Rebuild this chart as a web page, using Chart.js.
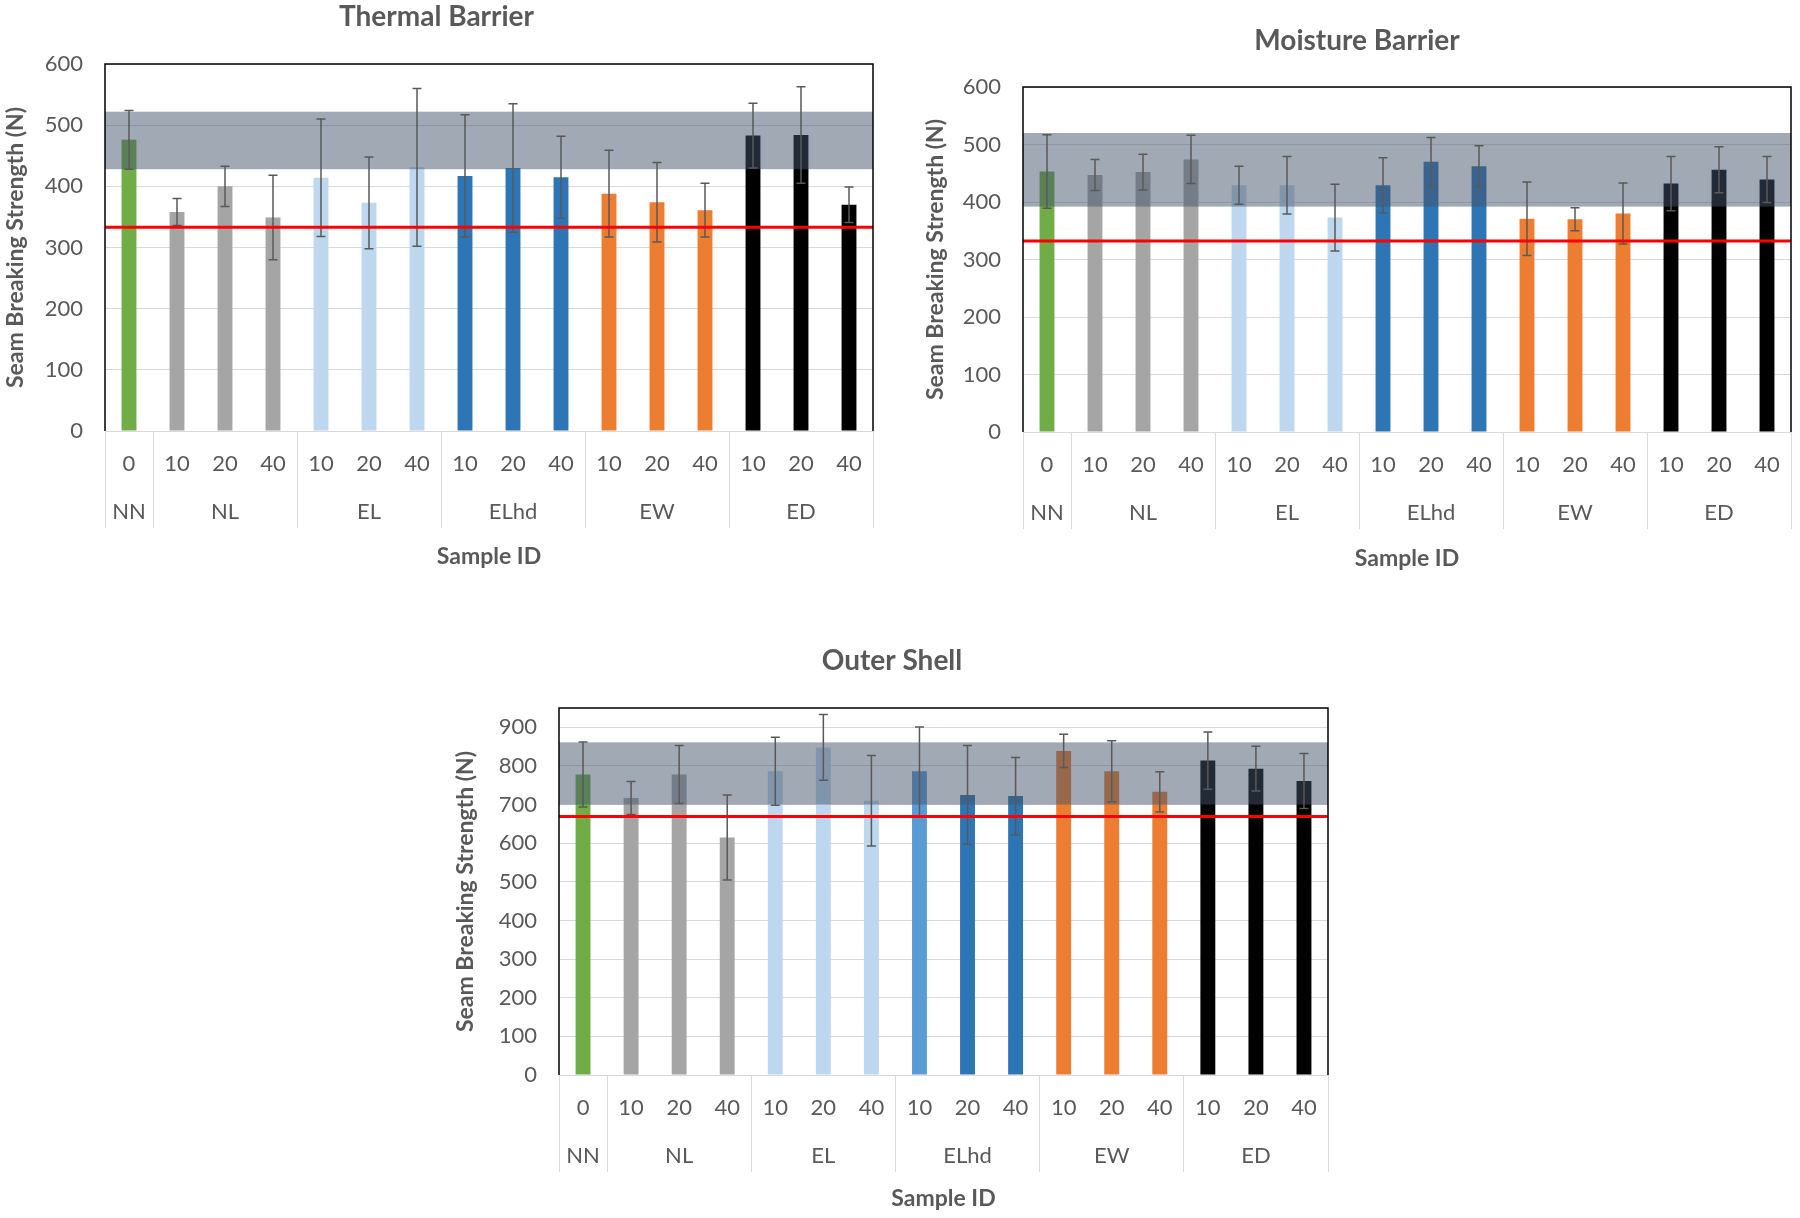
<!DOCTYPE html>
<html>
<head>
<meta charset="utf-8">
<title>Seam Breaking Strength</title>
<script src="https://cdn.jsdelivr.net/npm/chart.js@4.4.1/dist/chart.umd.min.js"></script>
<style>
    html, body { margin: 0; padding: 0; background: #fff; }
    body { width: 1800px; height: 1218px; position: relative; overflow: hidden; }
    canvas { position: absolute; }
</style>
</head>
<body>
<canvas id="thermal" width="874" height="580" style="left:0px;top:0px"></canvas>
<canvas id="moisture" width="886" height="580" style="left:914px;top:0px"></canvas>
<canvas id="outer" width="904" height="588" style="left:440px;top:630px"></canvas>
<script>
// categories
var groups = ['NN', 'NL', 'EL', 'ELhd', 'EW', 'ED'];
var groupSizes = [1, 3, 3, 3, 3, 3];
var levels = ['0', '10', '20', '40', '10', '20', '40', '10', '20', '40', '10', '20', '40', '10', '20', '40'];

// Thermal Barrier
var thermalMean = [476, 358, 400, 349, 414, 373, 431, 417, 430, 415, 388, 374, 361, 483, 484, 370];
var thermalErr  = [48, 22, 33, 69, 96, 75, 129, 100, 105, 67, 71, 65, 44, 53, 79, 29];
var thermalBand = [428, 522];
var thermalLimit = 333;

// Moisture Barrier
var moistureMean = [453, 447, 452, 474, 429, 429, 373, 429, 470, 462, 371, 370, 380, 432, 456, 439];
var moistureErr  = [64, 27, 31, 42, 33, 50, 58, 48, 42, 36, 64, 20, 53, 47, 40, 40];
var moistureBand = [392, 520];
var moistureLimit = 332;

// Outer Shell
var outerMean = [778, 717, 778, 615, 786, 848, 710, 786, 725, 722, 839, 786, 733, 814, 793, 761];
var outerErr  = [84, 43, 75, 110, 88, 85, 117, 115, 128, 100, 43, 79, 52, 74, 58, 71];
var outerBand = [700, 861];
var outerLimit = 669;

var groupColors = ['#70ad47', '#a5a5a5', '#bdd7ee', '#2e75b6', '#ed7d31', '#000000'];
var textColor = '#595959';
var fontFamily = 'Lato, "Open Sans", sans-serif';

function barColors(){
    var out = [];
    groups.forEach(function(g, i){
        for (var k = 0; k < groupSizes[i]; k++) out.push(groupColors[i]);
    });
    return out;
}

// group boundaries / centres on a 0..16 scale
var bounds = [0], centres = [];
groupSizes.forEach(function(n){
    var start = bounds[bounds.length - 1];
    centres.push(start + n / 2);
    bounds.push(start + n);
});

function overlay(err, band, limit){
    return {
        id: 'overlay',
        afterDatasetsDraw: function(chart){
            var ctx = chart.ctx, a = chart.chartArea, y = chart.scales.y;
            var mean = chart.data.datasets[0].data;
            ctx.save();
            // control range band
            var t = y.getPixelForValue(band[1]), b = y.getPixelForValue(band[0]);
            ctx.fillStyle = 'rgba(68,84,106,0.5)';
            ctx.fillRect(a.left, t, a.right - a.left, b - t);
            // error bars
            ctx.strokeStyle = '#595959';
            ctx.lineWidth = 1.5;
            chart.getDatasetMeta(0).data.forEach(function(bar, i){
                var hi = y.getPixelForValue(mean[i] + err[i]);
                var lo = y.getPixelForValue(mean[i] - err[i]);
                ctx.beginPath();
                ctx.moveTo(bar.x, hi); ctx.lineTo(bar.x, lo);
                ctx.moveTo(bar.x - 4.5, hi); ctx.lineTo(bar.x + 4.5, hi);
                ctx.moveTo(bar.x - 4.5, lo); ctx.lineTo(bar.x + 4.5, lo);
                ctx.stroke();
            });
            // requirement line
            var ly = y.getPixelForValue(limit);
            ctx.strokeStyle = '#ff0000';
            ctx.lineWidth = 3;
            ctx.beginPath();
            ctx.moveTo(a.left, ly); ctx.lineTo(a.right, ly);
            ctx.stroke();
            // plot frame (left, top, right)
            ctx.strokeStyle = '#000';
            ctx.lineWidth = 1.5;
            ctx.beginPath();
            ctx.moveTo(a.left, a.bottom); ctx.lineTo(a.left, a.top);
            ctx.lineTo(a.right, a.top); ctx.lineTo(a.right, a.bottom);
            ctx.stroke();
            ctx.restore();
        }
    };
}

function makeChart(id, title, mean, err, band, limit, yMax, colors, L){
    var ctx = document.getElementById(id).getContext('2d');
    var isBound = function(i){ return i === undefined || bounds.indexOf(i) >= 0; };
    var boundColor = function(c){ return c.tick && bounds.indexOf(c.tick.value) >= 0 ? '#d9d9d9' : 'rgba(0,0,0,0)'; };
    return new Chart(ctx, {
        type: 'bar',
        data: {
            labels: levels,
            datasets: [{
                data: mean,
                backgroundColor: colors,
                borderWidth: 0,
                barPercentage: 0.31,
                categoryPercentage: 1
            }]
        },
        options: {
            responsive: false,
            animation: false,
            layout: { padding: { left: L.padLeft, right: L.padRight, top: 0, bottom: 0 } },
            plugins: {
                legend: { display: false },
                tooltip: { enabled: false },
                title: {
                    display: true,
                    text: title,
                    color: textColor,
                    font: { family: fontFamily, size: 28, weight: 'bold' },
                    padding: { top: L.titleTop, bottom: L.titleBottom }
                }
            },
            scales: {
                y: {
                    min: 0,
                    max: yMax,
                    ticks: { stepSize: 100, includeBounds: false, padding: 22, color: textColor,
                             font: { family: fontFamily, size: 22 } },
                    grid: { color: '#d9d9d9', lineWidth: 1, drawTicks: false },
                    border: { display: false },
                    title: { display: true, text: 'Seam Breaking Strength (N)', color: textColor,
                             font: { family: fontFamily, size: 23, weight: 'bold' },
                             padding: { top: L.yTitlePad, bottom: 0 } },
                    afterFit: function(s){ s.width = L.yWidth; }
                },
                x: {
                    weight: 0,
                    ticks: { color: textColor, padding: -29, maxRotation: 0, autoSkip: false,
                             font: { family: fontFamily, size: 22 } },
                    grid: {
                        offset: true,
                        drawOnChartArea: false,
                        drawTicks: true,
                        tickLength: 49,
                        lineWidth: 1,
                        color: function(c){ return isBound(c.index) ? '#d9d9d9' : 'rgba(0,0,0,0)'; },
                        tickColor: function(c){ return isBound(c.index) ? '#d9d9d9' : 'rgba(0,0,0,0)'; }
                    },
                    border: { display: false },
                    afterFit: function(s){ s.height = 49; }
                },
                x2: {
                    type: 'linear',
                    position: 'bottom',
                    weight: 1,
                    offset: false,
                    min: 0,
                    max: bounds[bounds.length - 1],
                    afterBuildTicks: function(s){
                        s.ticks = bounds.concat(centres).sort(function(p, q){ return p - q; })
                            .map(function(v){ return { value: v }; });
                    },
                    ticks: {
                        color: textColor, padding: -29, maxRotation: 0, autoSkip: false,
                        font: { family: fontFamily, size: 22 },
                        callback: function(v){
                            var k = centres.indexOf(v);
                            return k >= 0 ? groups[k] : '';
                        }
                    },
                    grid: {
                        offset: false,
                        drawOnChartArea: false,
                        drawTicks: true,
                        tickLength: 48,
                        lineWidth: 1,
                        color: boundColor,
                        tickColor: boundColor
                    },
                    border: { display: false },
                    title: { display: true, text: 'Sample ID', color: textColor,
                             font: { family: fontFamily, size: 23, weight: 'bold' },
                             padding: { top: 0, bottom: L.xTitlePad } },
                    afterFit: function(s){ s.height = L.x2Height; }
                }
            }
        },
        plugins: [overlay(err, band, limit)]
    });
}

function draw(){
    var base = barColors();
    var outerColors = base.slice();
    outerColors[7] = '#5b9bd5';

    makeChart('thermal', 'Thermal Barrier', thermalMean, thermalErr, thermalBand, thermalLimit, 600, base,
        { padLeft: 0, padRight: 1, titleTop: 0.2, titleBottom: 30.2, yWidth: 105, yTitlePad: 2.2, x2Height: 100, xTitlePad: 10 });
    makeChart('moisture', 'Moisture Barrier', moistureMean, moistureErr, moistureBand, moistureLimit, 600, base,
        { padLeft: 9, padRight: 9, titleTop: 24.5, titleBottom: 28.9, yWidth: 100, yTitlePad: -1.2, x2Height: 99, xTitlePad: 8 });
    makeChart('outer', 'Outer Shell', outerMean, outerErr, outerBand, outerLimit, 950, outerColors,
        { padLeft: 16, padRight: 16, titleTop: 14.2, titleBottom: 30.2, yWidth: 103, yTitlePad: -3.8, x2Height: 94, xTitlePad: 6 });
}

if (document.fonts && document.fonts.load) {
    Promise.all([document.fonts.load('22px Lato'), document.fonts.load('bold 23px Lato')])
        .then(draw, draw);
} else {
    draw();
}
</script>
</body>
</html>
